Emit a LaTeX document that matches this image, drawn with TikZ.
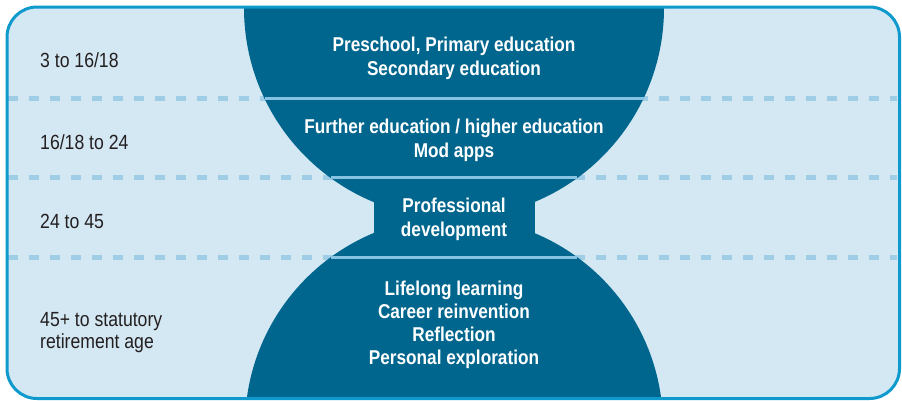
\documentclass[tikz,border=0pt]{standalone}
\usepackage{fontspec}
\newfontfamily\cond[FakeStretch=0.86]{Liberation Sans}
\definecolor{frameblue}{HTML}{0E9ACD}
\definecolor{panel}{HTML}{D4E8F3}
\definecolor{deep}{HTML}{00668E}
\definecolor{dashblue}{HTML}{9FCDE5}
\definecolor{innerline}{HTML}{86C3E2}
\definecolor{ink}{HTML}{231F20}
\tikzset{
  agelabel/.style={anchor=base west, inner sep=0pt, text=ink, align=left,
    font=\cond\fontsize{20.5}{22}\selectfont},
  stagelabel/.style={anchor=base, inner sep=0pt, text=white, align=center,
    font=\cond\bfseries\fontsize{20}{24}\selectfont},
  bandline/.style={dashblue, line width=4.5pt, dash pattern=on 10pt off 11pt},
  sepline/.style={innerline, line width=2.5pt}
}
\begin{document}
\begin{tikzpicture}[x=1pt,y=-1pt]
\useasboundingbox (0,0) rectangle (902,400);
% panel
\fill[panel, rounded corners=30pt] (7,7) rectangle (899.5,398.5);
% dashed band lines
\coordinate (d1l) at (8,98.3);   \coordinate (d1r) at (897,98.3);
\coordinate (d2l) at (8,177.7);  \coordinate (d2r) at (897,177.7);
\coordinate (d3l) at (8,257.3);  \coordinate (d3r) at (897,257.3);
\draw[bandline] (d1l) -- (d1r);
\draw[bandline] (d2l) -- (d2r);
\draw[bandline] (d3l) -- (d3r);
% hourglass shape
\begin{scope}
  \clip[rounded corners=30pt] (7,7) rectangle (899.5,398.5);
  \fill[deep] (454,8) circle (210pt);
  \fill[deep] (454,426) circle (209pt);
  \fill[deep] (374,195) rectangle (535,240);
\end{scope}
% solid separators inside the shape
\coordinate (s1l) at (264.5,98.3);  \coordinate (s1r) at (643.5,98.3);
\coordinate (s2l) at (330.8,177.7); \coordinate (s2r) at (577.2,177.7);
\coordinate (s3l) at (331,257.3);   \coordinate (s3r) at (577,257.3);
\draw[sepline] (s1l) -- (s1r);
\draw[sepline] (s2l) -- (s2r);
\draw[sepline] (s3l) -- (s3r);
% frame border
\draw[frameblue, line width=3pt, rounded corners=30pt] (7,7) rectangle (899.5,398.5);
% age labels
\node[agelabel] (age1) at (40,67) {3 to 16/18};
\node[agelabel] (age2) at (40,149) {16/18 to 24};
\node[agelabel] (age3) at (40,228.3) {24 to 45};
\node[agelabel] (age4) at (40,348) {45+ to statutory\\retirement age};
% stage labels
\node[stagelabel] (st1) at (454,75) {Preschool, Primary education\\Secondary education};
\node[stagelabel] (st2) at (454,157.5) {Further education / higher education\\Mod apps};
\node[stagelabel] (st3) at (454,236.5) {Professional\\development};
\node[stagelabel, font=\cond\bfseries\fontsize{20}{23}\selectfont] (st4) at (454,364) {Lifelong learning\\Career reinvention\\Reflection\\Personal exploration};
\end{tikzpicture}
\end{document}
